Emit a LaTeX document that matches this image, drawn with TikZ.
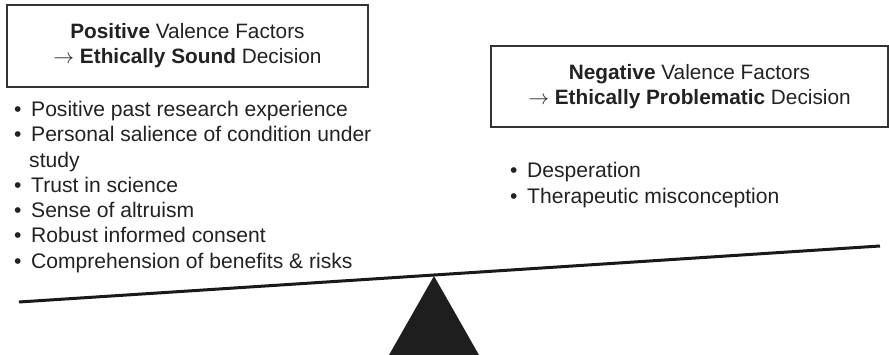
\documentclass[tikz,border=0pt]{standalone}
\usepackage{fontspec}
\setmainfont{Liberation Sans}
\definecolor{ink}{HTML}{222222}
\definecolor{boxline}{HTML}{333333}
\definecolor{fulcrum}{HTML}{1E1E1E}
\tikzset{
  headbox/.style={draw=boxline, line width=1.3pt, text=ink, align=center,
    font=\fontsize{20.8}{25}\selectfont, inner sep=0pt},
  item/.style={anchor=base west, text=ink, inner sep=0pt,
    font=\fontsize{21.1}{25}\selectfont},
  beam/.style={line width=3pt, draw=black!90},
}
\newcommand{\bul}{\makebox[17pt][l]{\textbullet}}
\newcommand{\nob}{\hspace*{15pt}}
\begin{document}
\begin{tikzpicture}[x=1pt,y=-1pt]
\useasboundingbox (0,0) rectangle (889,355);
% boxes
\node[headbox, minimum width=361pt, minimum height=82pt] (posbox) at (187.5,46)
  {\textbf{Positive} Valence Factors\\[0pt]$\rightarrow$ \textbf{Ethically Sound} Decision};
\node[headbox, minimum width=397pt, minimum height=81pt] (negbox) at (689.5,86.5)
  {\textbf{Negative} Valence Factors\\[0pt]$\rightarrow$ \textbf{Ethically Problematic} Decision};
% positive list
\node[item] (p1) at (14,116.5) {\bul Positive past research experience};
\node[item] (p2) at (14,141.8) {\bul Personal salience of condition under};
\node[item] (p2b) at (14,167.1) {\nob study};
\node[item] (p3) at (14,192.4) {\bul Trust in science};
\node[item] (p4) at (14,217.7) {\bul Sense of altruism};
\node[item] (p5) at (14,243) {\bul Robust informed consent};
\node[item] (p6) at (14,268.3) {\bul Comprehension of benefits \& risks};
% negative list
\node[item] (n1) at (510,178) {\bul Desperation};
\node[item] (n2) at (510,203.3) {\bul Therapeutic misconception};
% balance
\coordinate (beamL) at (19,302);
\coordinate (beamR) at (880,246);
\coordinate (apex) at (434,276);
\coordinate (baseL) at (389,355);
\coordinate (baseR) at (479,355);
\fill[fulcrum] (apex) -- (baseR) -- (baseL) -- cycle;
\draw[beam] (beamL) -- (beamR);
\end{tikzpicture}
\end{document}
